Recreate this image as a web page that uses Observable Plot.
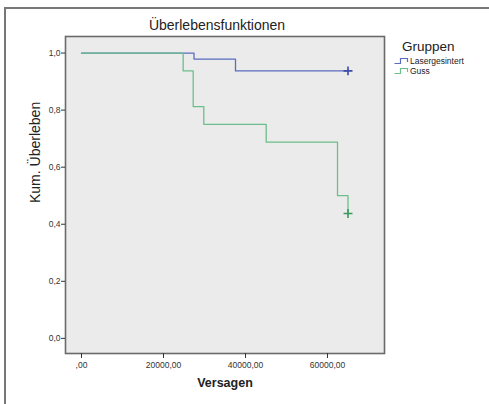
<!DOCTYPE html>
<html>
<head>
<meta charset="utf-8">
<script src="https://cdn.jsdelivr.net/npm/d3@7"></script>
<script src="https://cdn.jsdelivr.net/npm/@observablehq/plot@0.6"></script>
<style>
  html, body { margin: 0; padding: 0; background: #fff; }
  #wrap { position: relative; width: 489px; height: 404px; overflow: hidden; font-family: "Liberation Sans", Arial, sans-serif; }
  #border { position: absolute; left: 4px; top: 7px; width: 500px; height: 420px; border-left: 2px solid #777; border-top: 2px solid #777; box-sizing: border-box; }
  #chart { position: absolute; left: 0; top: 0; }
  #legend { position: absolute; left: 394px; top: 38px; color: #222; }
  #legend .title { font-size: 13.5px; margin-left: 8px; line-height: 18px; }
  #legend .item { font-size: 8.5px; line-height: 10px; display: flex; align-items: center; white-space: nowrap; }
  #legend svg { margin-right: 1px; }
</style>
</head>
<body>
<div id="wrap">
  <div id="border"></div>
  <div id="chart"></div>
  <div id="legend"></div>
</div>
<script>
// Data
const groups = ["Lasergesintert", "Guss"];
const groupColors = ["#5a6cc0", "#6cbf8c"];
const censorColors = ["#3a4ca8", "#3a9a5c"];

const laserTimes = [0, 27440, 37560, 65000];
const laserSurv  = [1, 0.979, 0.9375, 0.9375];

const gussTimes = [0, 24800, 27240, 29830, 45050, 62440, 65000];
const gussSurv  = [1, 0.9375, 0.8125, 0.75, 0.6875, 0.5, 0.4375];

const censorTimes = [65000, 65000];
const censorSurv  = [0.9375, 0.4375];

const xTicks = [0, 20000, 40000, 60000];
const yTicks = [0, 0.2, 0.4, 0.6, 0.8, 1.0];

const titleText = "Überlebensfunktionen";
const xLabel = "Versagen";
const yLabel = "Kum. Überleben";
const legendTitle = "Gruppen";

// Build tables
const laserSteps = laserTimes.map((t, i) => ({ t, s: laserSurv[i], g: groups[0] }));
const gussSteps = gussTimes.map((t, i) => ({ t, s: gussSurv[i], g: groups[1] }));
const censored = censorTimes.map((t, i) => ({ t, s: censorSurv[i], g: groups[i] }));

const fmtX = d => d === 0 ? ",00" : d + ",00";
const fmtY = d => d.toFixed(1).replace(".", ",");

const chart = Plot.plot({
  width: 489,
  height: 404,
  marginLeft: 65,
  marginRight: 105,
  marginTop: 36,
  marginBottom: 51,
  style: { background: "transparent", fontFamily: "Liberation Sans, Arial, sans-serif" },
  x: { domain: [-3900, 73900] },
  y: { domain: [-0.053, 1.058] },
  color: { domain: groups, range: groupColors },
  marks: [
    Plot.frame({ fill: "#ebebeb", stroke: null }),
    Plot.line(laserSteps, { x: "t", y: "s", stroke: "g", curve: "step-after", strokeWidth: 1.3 }),
    Plot.line(gussSteps, { x: "t", y: "s", stroke: "g", curve: "step-after", strokeWidth: 1.3 }),
    Plot.dot(censored, { x: "t", y: "s", symbol: "plus", r: 3, strokeWidth: 1.6,
      stroke: d => censorColors[groups.indexOf(d.g)] }),
    Plot.frame({ stroke: "#6a6a6a", strokeWidth: 1.6 }),
    Plot.axisX({ ticks: xTicks, tickFormat: fmtX, tickSize: 5, tickPadding: 3, fontSize: 8.5, color: "#333", label: null }),
    Plot.axisY({ ticks: yTicks, tickFormat: fmtY, tickSize: 4, tickPadding: 1, fontSize: 8.5, color: "#333", label: null }),
    Plot.text([titleText], { text: d => d, frameAnchor: "top", dx: -8, dy: -11, fontSize: 14, fill: "#222", lineAnchor: "middle" }),
    Plot.text([xLabel], { text: d => d, frameAnchor: "bottom", dy: 29, fontSize: 12.5, fontWeight: "bold", fill: "#222", lineAnchor: "middle" }),
    Plot.text([yLabel], { text: d => d, frameAnchor: "left", dx: -30, dy: 8, rotate: -90, fontSize: 14, fill: "#222", lineAnchor: "middle" })
  ]
});
document.getElementById("chart").appendChild(chart);

// Legend
const legend = document.getElementById("legend");
const t = document.createElement("div");
t.className = "title";
t.textContent = legendTitle;
legend.appendChild(t);
groups.forEach((g, i) => {
  const item = document.createElement("div");
  item.className = "item";
  item.innerHTML = `<svg width="15" height="8"><path d="M0.5,6.5H6.5V1.5H13.5V5" fill="none" stroke="${groupColors[i]}" stroke-width="1.2"/></svg><span>${g}</span>`;
  legend.appendChild(item);
});
</script>
</body>
</html>
